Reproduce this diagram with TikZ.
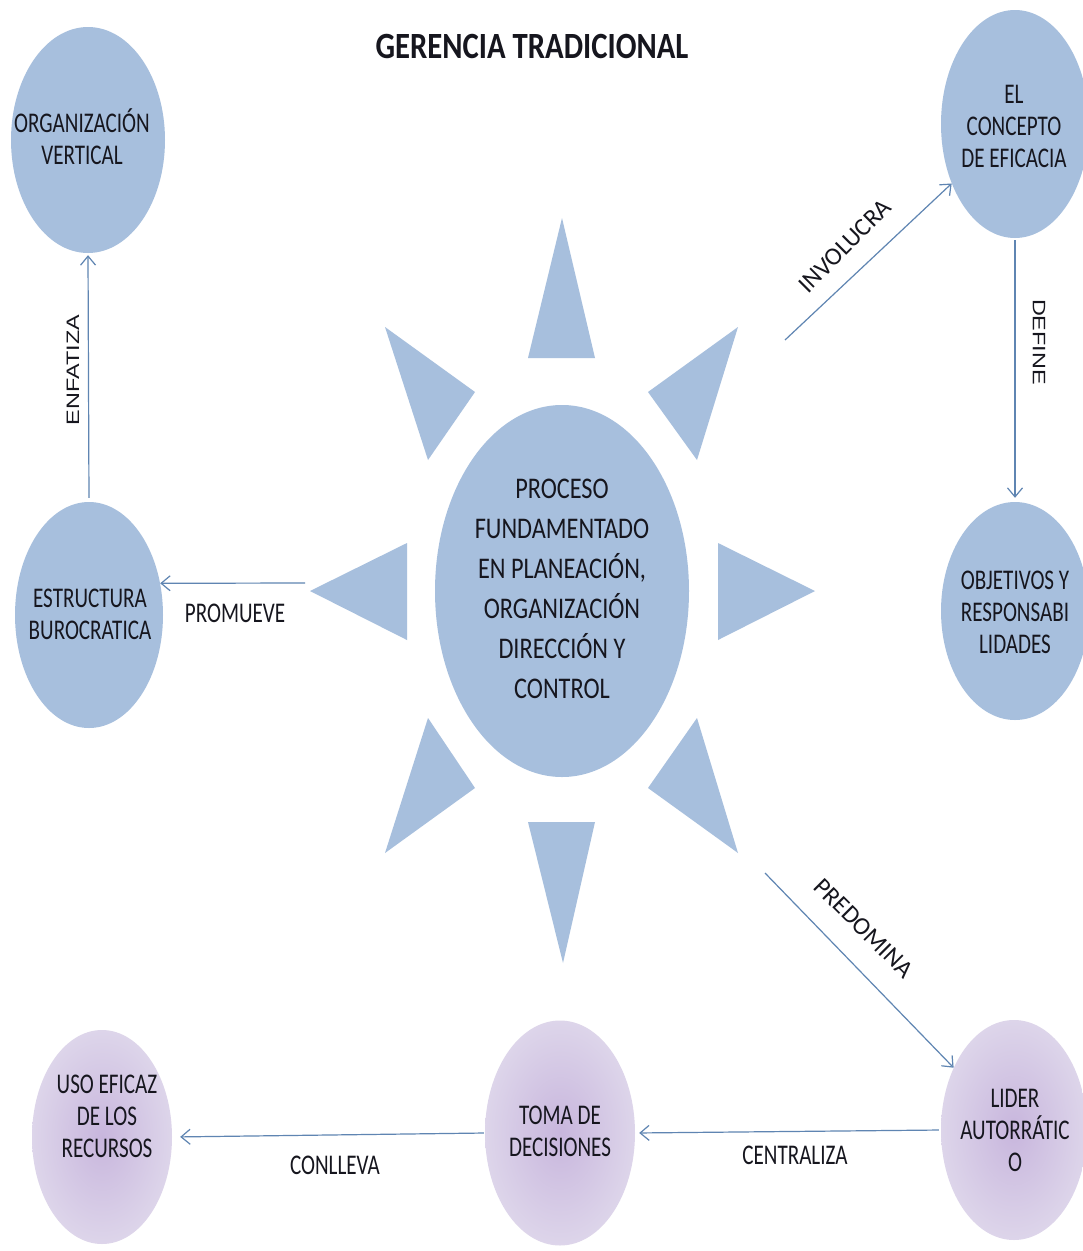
\documentclass[tikz,border=0pt]{standalone}
\usepackage{fontspec}
\setmainfont{Carlito}[FakeStretch=0.74]
\newfontfamily\cenfont{Carlito}[FakeStretch=0.81]
\newfontfamily\titlefont{Carlito}[FakeStretch=0.83]
\newfontfamily\diagfont{Carlito}
\newfontfamily\rotfont{Liberation Sans}[FakeStretch=1.3]
\usetikzlibrary{shapes.geometric,arrows.meta}
\definecolor{bluefill}{HTML}{A7BFDD}
\definecolor{arrowc}{HTML}{5F85B2}
\definecolor{txt}{HTML}{16161E}
\definecolor{purpin}{HTML}{C8B6DD}
\definecolor{purpout}{HTML}{DDD5EA}
\begin{document}
\begin{tikzpicture}[x=1pt,y=-1pt,
  blob/.style={ellipse, fill=bluefill, inner sep=0pt},
  pblob/.style={ellipse, inner sep=0pt, shading=radial, inner color=purpin, outer color=purpout},
  ntext/.style={text=txt, align=center, font=\fontsize{28.5}{32}\selectfont, inner sep=0pt},
  ctext/.style={text=txt, align=center, font=\cenfont\fontsize{30}{40}\selectfont, inner sep=0pt},
  elabel/.style={text=txt, font=\fontsize{28.5}{32}\selectfont, inner sep=0pt},
  dlabel/.style={text=txt, font=\diagfont\fontsize{25}{30}\selectfont, inner sep=0pt},
  rlabel/.style={text=txt, font=\rotfont\fontsize{18}{22}\selectfont, inner sep=0pt},
  conn/.style={draw=arrowc, line width=1.2pt, -{Straight Barb[length=9pt,width=15pt]}},
  ray/.style={fill=bluefill}
]
\useasboundingbox (0,0) rectangle (1083,1251);
\fill[white] (0,0) rectangle (1083,1251);
\clip (0,0) rectangle (1083,1251);

% title
\node[text=txt, font=\titlefont\bfseries\fontsize{37}{42}\selectfont, inner sep=0pt] (title) at (532,46) {GERENCIA TRADICIONAL};

% sun rays
\fill[ray] (528,358) -- (562,218) -- (595,358) -- cycle;
\fill[ray] (528,822) -- (563,963) -- (595,822) -- cycle;
\fill[ray] (310,591) -- (407,543) -- (407,640) -- cycle;
\fill[ray] (815,591) -- (718,543) -- (718,640) -- cycle;
\fill[ray] (385,327) -- (475,392) -- (428,460) -- cycle;
\fill[ray] (738,327) -- (648,392) -- (697,460) -- cycle;
\fill[ray] (385,853) -- (475,788) -- (428,718) -- cycle;
\fill[ray] (738,853) -- (648,788) -- (697,718) -- cycle;

% central ellipse
\node[blob, minimum width=254pt, minimum height=372pt] (core) at (562,591) {};
\node[ctext] (coret) at (562,589) {PROCESO\\FUNDAMENTADO\\EN PLANEACIÓN,\\ORGANIZACIÓN\\DIRECCIÓN Y\\CONTROL};

% blue satellites
\node[blob, minimum width=154pt, minimum height=226pt] (orgv) at (88,140) {};
\node[ntext] (orgvt) at (82,137) {ORGANIZACIÓN\\VERTICAL};

\node[blob, minimum width=148pt, minimum height=226pt] (estr) at (89,615) {};
\node[ntext] (estrt) at (90,614) {ESTRUCTURA\\BUROCRATICA};

\node[blob, minimum width=148pt, minimum height=228pt] (conc) at (1015,124) {};
\node[ntext] (conct) at (1014,126) {EL\\CONCEPTO\\DE EFICACIA};

\node[blob, minimum width=148pt, minimum height=218pt] (obj) at (1015,611) {};
\node[ntext] (objt) at (1015,612) {OBJETIVOS Y\\RESPONSABI\\LIDADES};

% purple nodes
\node[pblob, minimum width=146pt, minimum height=220pt] (lider) at (1014,1130) {};
\node[ntext] (lidert) at (1015,1130) {LIDER\\AUTORRÁTIC\\O};

\node[pblob, minimum width=150pt, minimum height=225pt] (toma) at (560,1133) {};
\node[ntext] (tomat) at (560,1131) {TOMA DE\\DECISIONES};

\node[pblob, minimum width=140pt, minimum height=214pt] (uso) at (102,1137) {};
\node[ntext] (usot) at (107,1116) {USO EFICAZ\\DE LOS\\RECURSOS};

% free ends near the sun
\coordinate (pInv) at (785,340);
\coordinate (pPre) at (765,873);
\coordinate (pProm) at (305,583);

% connectors
\draw[conn, shorten <=4pt, shorten >=2pt] (estr.north) -- (orgv.south);
\draw[conn] (pProm) -- (estr.24);
\draw[conn] (pInv) -- (conc);
\draw[conn, shorten <=2pt, shorten >=4pt] (conc.south) -- (obj.north);
\draw[conn] (pPre) -- (lider);
\draw[conn, shorten <=2pt, shorten >=4pt] (lider.west) -- (toma.east);
\draw[conn, shorten <=1pt, shorten >=8pt] (toma.west) -- (uso.east);

% labels
\node[rlabel, rotate=90] (lEnf) at (73,370) {ENFATIZA};
\node[elabel] (lProm) at (235,613) {PROMUEVE};
\node[dlabel, rotate=45] (lInv) at (845,246) {INVOLUCRA};
\node[rlabel, rotate=-90] (lDef) at (1039,342) {DEFINE};
\node[dlabel, rotate=-45] (lPre) at (864,928) {PREDOMINA};
\node[elabel] (lCen) at (795,1155) {CENTRALIZA};
\node[elabel] (lCon) at (335,1165) {CONLLEVA};
\end{tikzpicture}
\end{document}
